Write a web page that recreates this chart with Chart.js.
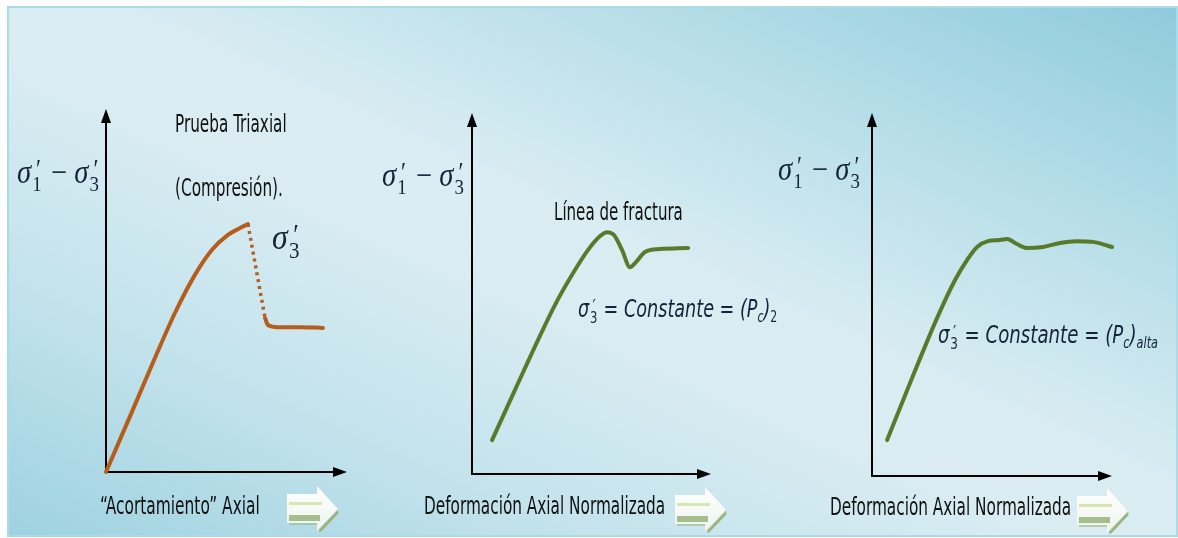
<!DOCTYPE html>
<html>
<head>
<meta charset="utf-8">
<script src="https://cdn.jsdelivr.net/npm/chart.js@4/dist/chart.umd.min.js"></script>
<style>
  html, body { margin:0; padding:0; width:1178px; height:538px; background:#fff; overflow:hidden; }
  #frame { position:absolute; left:7px; top:6px; width:1167px; height:527px;
    border:2px solid #a9dbe8;
    background: linear-gradient(to top right, #9ed2e0 0%, #c4e3ec 25%, #dbedf3 47%, #d8ecf2 55%, #b9dfe9 75%, #8fcbdc 100%); }
  canvas { position:absolute; left:0; top:0; }
  .lbl { position:absolute; white-space:nowrap; line-height:1; transform-origin:0 0; color:#111; }
  .txt { font-family:'Liberation Sans Narrow','DejaVu Sans Condensed','Liberation Sans',sans-serif; }
  .eq { font-family:'Liberation Sans Narrow','DejaVu Sans Condensed','Liberation Sans',sans-serif; font-style:italic; color:#15233a; }
  .math { font-family:'Liberation Serif','DejaVu Serif',serif; color:#15233a; }
  .ss { display:inline-block; position:relative; width:0.45em; height:0; }
  .ss .sp { position:absolute; left:0.22em; top:-1.02em; font-size:0.8em; font-style:normal; }
  .ss .sb { position:absolute; left:0.06em; top:-0.42em; font-size:0.66em; font-style:normal; }
  .sub { font-size:0.62em; vertical-align:-0.3em; font-style:italic; }
  .subn { font-size:0.62em; vertical-align:-0.3em; font-style:normal; }
  svg.deco { position:absolute; }
</style>
</head>
<body>
<div id="frame"></div>
<canvas id="c1" width="1178" height="538"></canvas>
<canvas id="c2" width="1178" height="538"></canvas>
<canvas id="c3" width="1178" height="538"></canvas>
<script>
// ---- Data (axis units 0..10) ----
// Panel 1: triaxial compression, strain vs deviator stress
const p1RiseX  = [0, 1.00, 2.03, 2.86, 3.69, 4.40, 5.06, 5.56, 5.89];
const p1RiseY  = [0, 1.54, 3.14, 4.38, 5.43, 6.12, 6.53, 6.72, 6.83];
const p1DropX  = [5.89, 6.60];
const p1DropY  = [6.83, 4.24];
const p1ResidX = [6.60, 6.72, 7.14, 8.05, 9.00];
const p1ResidY = [4.24, 4.05, 3.99, 3.99, 3.97];
// Panel 2: normalized axial strain, (Pc)2
const p2X = [0.84, 1.80, 2.76, 3.47, 4.18, 4.85, 5.36, 5.65, 5.94, 6.28, 6.61, 6.86, 7.24, 7.87, 9.04];
const p2Y = [0.94, 2.33, 3.71, 4.68, 5.51, 6.20, 6.59, 6.70, 6.62, 6.20, 5.73, 5.87, 6.15, 6.23, 6.26];
// Panel 3: normalized axial strain, (Pc) alta
const p3X = [0.63, 1.67, 2.71, 3.46, 3.96, 4.38, 4.83, 5.33, 5.63, 6.04, 6.46, 7.13, 7.83, 8.54, 9.21, 10.0];
const p3Y = [0.99, 2.70, 4.35, 5.40, 5.95, 6.31, 6.47, 6.50, 6.53, 6.39, 6.28, 6.31, 6.42, 6.47, 6.45, 6.31];

const axisMin = 0, axisMax = 10;
const xLabels = ['\u201CAcortamiento\u201D Axial', 'Deformación Axial Normalizada', 'Deformación Axial Normalizada'];

const W = 1178, H = 538;
const BROWN = '#b55d1d', GREEN = '#597a2b';

const axesPlugin = {
  id: 'arrowAxes',
  beforeDatasetsDraw(chart) {
    const { ctx, chartArea: a } = chart;
    ctx.save();
    ctx.strokeStyle = '#000'; ctx.fillStyle = '#000'; ctx.lineWidth = 2;
    ctx.beginPath();
    ctx.moveTo(a.left, a.bottom + 1); ctx.lineTo(a.left, a.top + 10);
    ctx.moveTo(a.left - 1, a.bottom); ctx.lineTo(a.right - 10, a.bottom);
    ctx.stroke();
    ctx.beginPath();
    ctx.moveTo(a.left, a.top); ctx.lineTo(a.left - 5, a.top + 14); ctx.lineTo(a.left + 5, a.top + 14); ctx.closePath();
    ctx.fill();
    ctx.beginPath();
    ctx.moveTo(a.right, a.bottom); ctx.lineTo(a.right - 14, a.bottom - 5); ctx.lineTo(a.right - 14, a.bottom + 5); ctx.closePath();
    ctx.fill();
    ctx.restore();
  }
};

function pts(xs, ys) { return xs.map((x, i) => ({ x, y: ys[i] })); }
function ds(xs, ys, color, extra) {
  return Object.assign({ data: pts(xs, ys), borderColor: color, borderWidth: 4, pointRadius: 0,
    fill: false, cubicInterpolationMode: 'monotone', clip: false, borderCapStyle: 'round', borderJoinStyle: 'round' }, extra || {});
}
function makeChart(id, box, datasets) {
  new Chart(document.getElementById(id), {
    type: 'line',
    data: { datasets },
    options: {
      responsive: false, animation: false, events: [],
      layout: { padding: { left: box.left, top: box.top, right: W - box.right, bottom: H - box.bottom } },
      scales: {
        x: { type: 'linear', min: axisMin, max: axisMax, display: false },
        y: { type: 'linear', min: axisMin, max: axisMax, display: false }
      },
      plugins: { legend: { display: false }, tooltip: { enabled: false } }
    },
    plugins: [axesPlugin]
  });
}

makeChart('c1', { left: 106, top: 109, right: 347, bottom: 472 }, [
  ds(p1RiseX, p1RiseY, BROWN),
  ds(p1DropX, p1DropY, BROWN, { borderWidth: 3.5, borderDash: [3, 4], borderCapStyle: 'butt', cubicInterpolationMode: 'default', tension: 0 }),
  ds(p1ResidX, p1ResidY, BROWN)
]);
makeChart('c2', { left: 472, top: 113, right: 711, bottom: 474 }, [ ds(p2X, p2Y, GREEN) ]);
makeChart('c3', { left: 872, top: 113, right: 1112, bottom: 476 }, [ ds(p3X, p3Y, GREEN) ]);

// ---- Text labels ----
function sig(sub) {
  return '<i>σ</i><span class="ss"><span class="sp">′</span><span class="sb">' + sub + '</span></span>';
}
function place(html, cls, left, baseline, width, fs) {
  const d = document.createElement('div');
  d.className = 'lbl ' + cls;
  d.style.fontSize = fs + 'px';
  d.style.left = left + 'px';
  d.style.top = (baseline - 0.85 * fs) + 'px';
  d.innerHTML = html;
  document.body.appendChild(d);
  const w = d.scrollWidth;
  if (w > 0) d.style.transform = 'scaleX(' + (width / w) + ')';
  return d;
}
const yLab = sig('1') + ' − ' + sig('3');
place(yLab, 'math', 17, 184, 84, 33);
place(yLab, 'math', 382, 187, 84, 33);
place(yLab, 'math', 778, 181, 84, 33);

place('Prueba Triaxial', 'txt', 175, 132, 112, 25);
place('(Compresión).', 'txt', 175, 196, 108, 25);
place(sig('3'), 'math', 272, 250, 30, 36);
place('Línea de fractura', 'txt', 554, 220, 129, 24);
place(sig('3') + ' = Constante =  (<i>P</i><span class="sub">c</span>)<span class="subn">2</span>', 'eq', 578, 317, 199, 25);
place(sig('3') + ' = Constante =  (<i>P</i><span class="sub">c</span>)<span class="sub">alta</span>', 'eq', 938, 343, 220, 25);

place(xLabels[0], 'txt', 100, 514, 160, 24);
place(xLabels[1], 'txt', 424, 514, 241, 24);
place(xLabels[2], 'txt', 830, 515, 241, 24);

// ---- decorative block arrows ----
function deco(left, top) {
  const ns = 'http://www.w3.org/2000/svg';
  const s = document.createElementNS(ns, 'svg');
  s.setAttribute('class', 'deco'); s.setAttribute('width', '54'); s.setAttribute('height', '50');
  s.style.left = left + 'px'; s.style.top = top + 'px';
  s.innerHTML =
    '<defs><linearGradient id="g' + left + '" x1="0" y1="0" x2="0" y2="1">' +
    '<stop offset="0" stop-color="#ffffff"/><stop offset="1" stop-color="#eef4ec"/></linearGradient></defs>' +
    '<path d="M2 11 H31 V3 L52 26 L32 48 V40 H2 Z" fill="#9db88a" opacity="0.6"/>' +
    '<path d="M0 9 H30 V1 L51 24 L30 46 V38 H0 Z" fill="url(#g' + left + ')"/>' +
    '<rect x="2" y="17" width="33" height="3" fill="#d6e7b4"/>' +
    '<rect x="2" y="30" width="31" height="6" fill="#a5be8e"/>' +
    '<line x1="33" y1="46" x2="51" y2="27" stroke="#97b37a" stroke-width="2.5"/>';
  document.body.appendChild(s);
}
deco(287, 485);
deco(675, 486);
deco(1077, 487);
</script>
</body>
</html>
